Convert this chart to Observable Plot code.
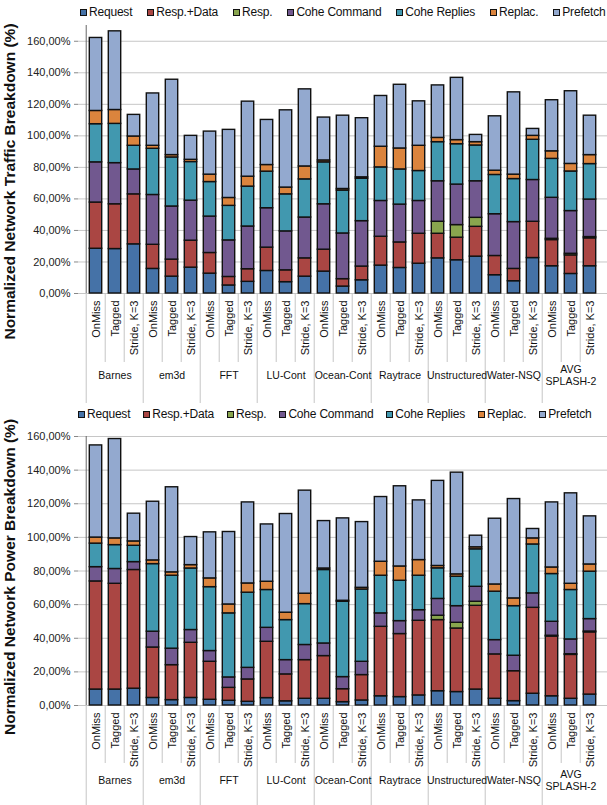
<!DOCTYPE html>
<html><head><meta charset="utf-8">
<script src="https://cdn.jsdelivr.net/npm/d3@7"></script>
<script src="https://cdn.jsdelivr.net/npm/@observablehq/plot@0.6"></script>
<style>
body{margin:0;background:#fff;font-family:"Liberation Sans",Arial,sans-serif;}
#wrap{position:relative;width:607px;height:805px;overflow:hidden;background:#fff}
.legend{position:absolute;display:flex;font-size:12px;color:#111;white-space:nowrap;line-height:16px;letter-spacing:-0.2px}
.legend .it{display:flex;align-items:center}
.legend .sw{width:5px;height:5px;border:1.2px solid #111;margin-right:2px}
.panel{position:absolute;left:0}
</style></head><body><div id="wrap"></div>
<script>
const groups = ["Barnes","em3d","FFT","LU-Cont","Ocean-Cont","Raytrace","Unstructured","Water-NSQ","AVG\nSPLASH-2"];
const variants = ["OnMiss","Tagged","Stride, K=3"];
const series = ["Request","Resp.+Data","Resp.","Cohe Command","Cohe Replies","Replac.","Prefetch"];
const colors = ["#4572A7","#AA4643","#89A54E","#71588F","#4198AF","#DB843D","#93A9CF"];
const yTicks = [0,20,40,60,80,100,120,140,160];

// Traffic breakdown (%), one value per bar (group x variant)
const trafficRequest  = [28.4,28.2,31.2, 15.6,10.7,16.4, 12.6,5.1,7.4, 14.3,7.2,10.7, 13.9,4.4,8.4, 17.7,16.2,18.9, 22.3,21.1,23.4, 11.6,7.8,22.5, 17.3,12.4,17.3];
const trafficRespData = [29.3,28.4,31.7, 15.3,10.8,17.1, 13.1,5.4,8.0, 14.8,7.5,11.6, 13.9,4.7,8.7, 18.3,16.2,19.0, 15.6,14.3,18.9, 12.2,7.8,23.0, 16.6,11.8,17.7];
const trafficResp     = [0,0,0, 0,0,0, 0,0,0, 0,0,0, 0,0,0, 0,0,0, 7.6,8.0,5.7, 0,0,0, 0.8,1.0,0.8];
const trafficCoheCmd  = [25.5,26.1,15.8, 31.6,33.7,25.4, 23.1,23.2,27.1, 25.0,24.7,25.9, 28.8,29.0,28.8, 22.7,24.0,20.8, 25.7,25.7,23.2, 26.5,29.7,26.5, 26.0,27.1,23.8];
const trafficCoheRep  = [24.2,24.9,15.0, 29.3,31.1,24.5, 21.9,21.9,25.3, 23.2,23.5,24.2, 26.6,27.2,26.9, 21.3,22.3,19.0, 24.8,25.6,22.7, 24.9,27.3,25.5, 24.7,25.1,22.5];
const trafficReplac   = [8.4,8.8,5.9, 1.9,1.5,1.4, 4.7,5.0,6.3, 4.2,4.3,8.2, 1.2,1.0,0.9, 13.1,13.3,16.0, 2.7,2.6,2.1, 2.7,2.8,2.5, 4.8,4.8,5.7];
const trafficPrefetch = [46.3,49.9,13.7, 33.2,47.8,15.2, 27.3,43.2,47.6, 28.6,49.0,48.9, 27.2,46.5,37.5, 32.2,40.4,28.2, 33.3,39.5,4.6, 34.5,52.2,4.4, 32.4,46.1,25.0];

// Power breakdown (%)
const powerRequest  = [9.5,9.5,10.0, 4.5,3.2,4.5, 3.4,2.8,2.2, 4.4,2.5,4.0, 4.0,2.0,3.0, 5.5,5.0,6.0, 8.5,8.0,9.5, 4.0,2.6,7.0, 5.5,4.0,6.5];
const powerRespData = [64.3,62.9,70.6, 30.0,20.8,32.8, 22.6,7.7,13.3, 33.5,16.0,23.0, 25.4,7.7,15.1, 41.3,37.5,44.4, 42.3,37.8,49.8, 26.4,17.8,51.1, 35.5,26.1,37.0];
const powerResp     = [0,0,0, 0,0,0, 0,0,0, 0,0,0, 0,0,0, 0,0,0, 2.6,3.4,2.4, 0,0,0, 0.5,0.4,0.5];
const powerCoheCmd  = [8.5,8.8,4.7, 9.4,9.8,7.6, 6.4,6.2,6.9, 8.3,8.5,9.0, 7.5,7.2,7.9, 8.0,7.7,6.3, 10.0,9.9,8.9, 8.5,9.2,8.6, 8.3,8.8,7.4];
const powerCoheRep  = [14.0,14.2,9.7, 40.2,43.4,36.6, 38.0,38.1,44.7, 22.5,23.8,24.3, 43.7,44.8,43.0, 22.4,24.0,20.5, 18.2,17.5,22.3, 28.8,29.5,29.1, 28.4,29.4,28.2];
const powerReplac   = [3.6,4.0,2.6, 2.2,2.0,2.0, 5.2,5.3,5.5, 4.9,4.4,6.2, 0.9,0.6,1.0, 8.3,8.5,9.3, 1.4,1.4,1.2, 4.3,4.6,3.6, 3.9,3.7,4.3];
const powerPrefetch = [54.8,59.1,16.5, 34.9,50.6,16.7, 27.4,43.1,48.2, 34.1,58.7,61.3, 28.2,49.0,39.1, 38.5,47.7,35.5, 50.6,60.5,6.9, 39.1,59.1,5.6, 38.7,53.8,28.6];

const trafficSeries = [trafficRequest,trafficRespData,trafficResp,trafficCoheCmd,trafficCoheRep,trafficReplac,trafficPrefetch];
const powerSeries = [powerRequest,powerRespData,powerResp,powerCoheCmd,powerCoheRep,powerReplac,powerPrefetch];

const keys = groups.flatMap((g, gi) => variants.map((v, vi) => gi + "|" + vi));
const variantOf = k => variants[+k.split("|")[1]];
const fmt = v => d3.format(".2f")(v).replace(".", ",") + "%";
const FONT = "'Liberation Sans', Arial, sans-serif";

function legend(top, left, gap) {
  const div = document.createElement("div");
  div.className = "legend";
  div.style.top = top + "px";
  div.style.left = left + "px";
  series.forEach((s, i) => {
    const it = document.createElement("div"); it.className = "it";
    if (i < series.length - 1) it.style.marginRight = gap + "px";
    const sw = document.createElement("div"); sw.className = "sw"; sw.style.background = colors[i];
    const t = document.createElement("span"); t.textContent = s;
    it.appendChild(sw); it.appendChild(t); div.appendChild(it);
  });
  return div;
}

function panel(vals, o) {
  const data = [];
  keys.forEach((k, i) => series.forEach((s, j) => {
    const v = vals[j][i];
    if (v > 0) data.push({key: k, series: s, value: v});
  }));
  const W = 607, ML = 78, MR = 0;
  const step = (W - ML - MR) / keys.length;
  const innerKeys = keys.filter(k => k.split("|")[1] !== "0");
  const groupKeys = keys.filter(k => k.split("|")[1] === "0");
  return Plot.plot({
    width: W, height: o.mt + o.ih + o.mb,
    marginLeft: ML, marginRight: MR, marginTop: o.mt, marginBottom: o.mb,
    style: {fontFamily: FONT, overflow: "visible", background: "transparent"},
    x: {domain: keys, padding: 0, axis: null},
    y: {domain: [0, o.ymax], axis: null},
    color: {domain: series, range: colors},
    marks: [
      Plot.ruleY(yTicks, {stroke: "#c6c6c6", strokeWidth: 1}),
      Plot.axisY({ticks: yTicks, tickFormat: fmt, tickSize: 4, tickPadding: 4, fontSize: 11, stroke: "#888", fill: "#222", label: null}),
      Plot.ruleX([keys[0]], {x: d => d, dx: -step / 2, y1: 0, y2: o.ymax, stroke: "#666"}),
      Plot.ruleX(innerKeys, {x: d => d, dx: -step / 2, y1: 0, y2: 0, insetBottom: -o.sep1, stroke: "#c6c6c6"}),
      Plot.ruleX(groupKeys, {x: d => d, dx: -step / 2, y1: 0, y2: 0, insetBottom: -o.sep2, stroke: "#c6c6c6"}),
      Plot.barY(data, Plot.stackY({x: "key", y: "value", fill: "series", stroke: "#111", strokeWidth: 1.4, insetLeft: 3.3, insetRight: 3.3})),
      Plot.text(keys, {x: d => d, frameAnchor: "bottom", text: variantOf, rotate: -90, textAnchor: "end", lineAnchor: "middle", dy: o.labDy, fontSize: 11, fill: "#111"}),
      Plot.text(groups, {x: (d, i) => keys[i * 3 + 1], frameAnchor: "bottom", text: d => d, dy: o.grpDy, fontSize: 10.5, lineAnchor: "middle", lineHeight: 1.1, fill: "#111"}),
      Plot.text([o.title], {frameAnchor: "left", dx: -68, dy: o.titleDy, rotate: -90, textAnchor: "middle", lineAnchor: "middle", text: d => d, fontWeight: "bold", fontSize: 15.5, fill: "#111"})
    ]
  });
}

const wrap = document.getElementById("wrap");
wrap.appendChild(legend(4, 80, 15));
const p1 = panel(trafficSeries, {ymax: 170, mt: 3, ih: 268, mb: 110, sep1: 69, sep2: 110, labDy: 7, grpDy: 82, title: "Normalized Network Traffic Breakdown (%)", titleDy: 22});
p1.classList.add("panel"); p1.style.top = "22px";
wrap.appendChild(p1);
wrap.appendChild(legend(406, 78, 13));
const p2 = panel(powerSeries, {ymax: 160, mt: 12, ih: 269, mb: 100, sep1: 58, sep2: 100, labDy: 7, grpDy: 75, title: "Normalized Network Power Breakdown (%)", titleDy: 6});
p2.classList.add("panel"); p2.style.top = "424px";
wrap.appendChild(p2);
</script></body></html>
